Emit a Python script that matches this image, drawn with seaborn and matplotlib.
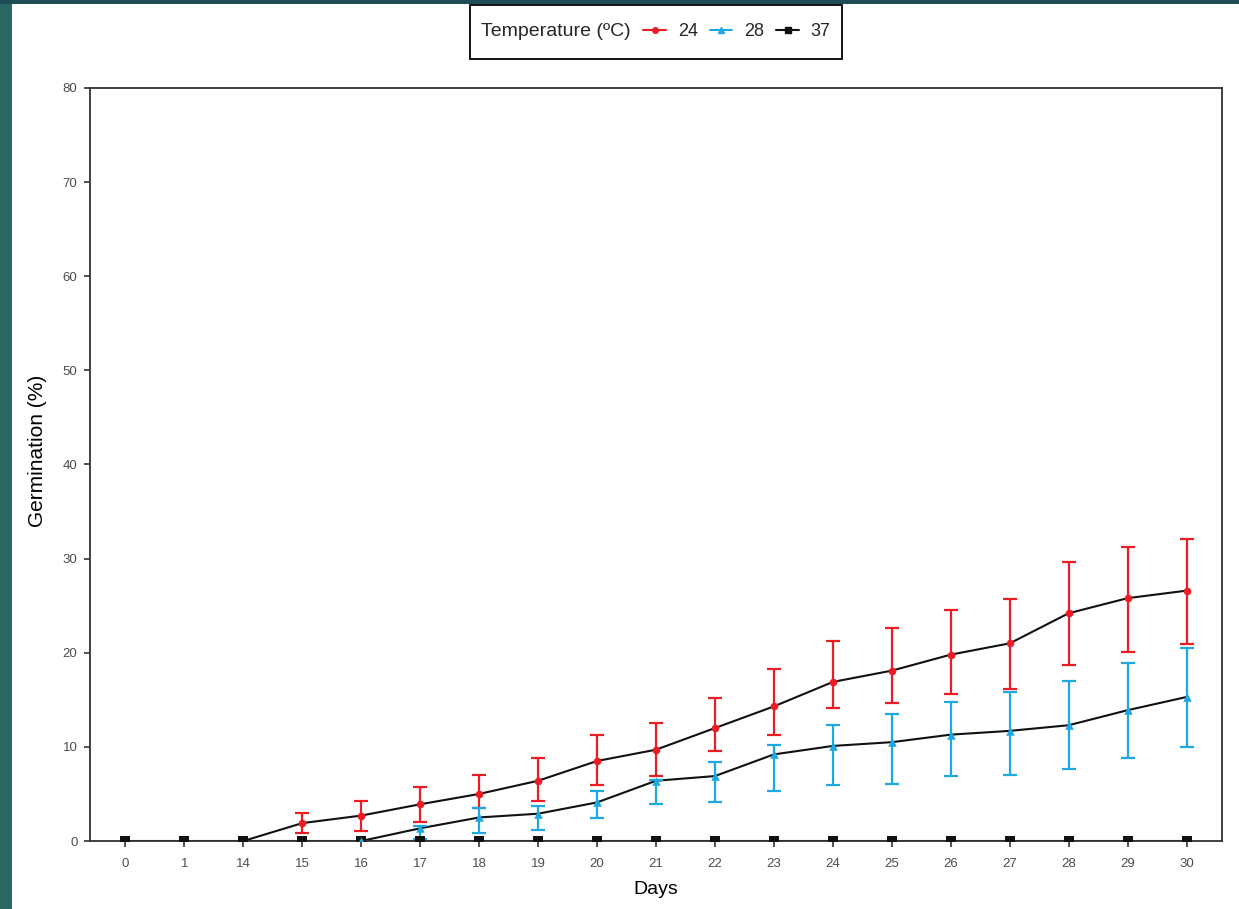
import numpy as np
import pandas as pd
import matplotlib.pyplot as plt
import seaborn as sns
from matplotlib.lines import Line2D
from matplotlib.patches import Rectangle
from matplotlib.offsetbox import HPacker, DrawingArea

# data
days = ['0', '1', '14', '15', '16', '17', '18', '19', '20', '21',
        '22', '23', '24', '25', '26', '27', '28', '29', '30']
nan = np.nan

t24_mean = [nan, nan, 0, 1.9, 2.7, 3.9, 5.0, 6.4, 8.5, 9.7,
            12.0, 14.3, 16.9, 18.1, 19.8, 21.0, 24.2, 25.8, 26.6]
t24_low = [nan, nan, nan, 0.8, 1.05, 2.0, 3.5, 4.3, 5.9, 6.9,
           9.6, 11.3, 14.1, 14.7, 15.6, 16.2, 18.7, 20.1, 20.9]
t24_high = [nan, nan, nan, 3.0, 4.3, 5.7, 7.0, 8.8, 11.3, 12.5,
            15.2, 18.3, 21.3, 22.6, 24.5, 25.7, 29.6, 31.2, 32.1]

t28_mean = [nan, nan, nan, nan, 0, 1.35, 2.5, 2.9, 4.1, 6.4,
            6.9, 9.2, 10.1, 10.5, 11.3, 11.7, 12.3, 13.9, 15.3]
t28_low = [nan, nan, nan, nan, nan, 0.2, 0.8, 1.2, 2.4, 3.95,
           4.1, 5.3, 5.9, 6.1, 6.9, 7.05, 7.65, 8.8, 10.0]
t28_high = [nan, nan, nan, nan, nan, 1.6, 3.5, 3.7, 5.3, 6.5,
            8.4, 10.2, 12.3, 13.5, 14.8, 15.8, 17.0, 18.9, 20.5]

t37_mean = [0] * len(days)

red = '#ED1C24'
blue = '#1BA8E3'
black = '#111111'

sns.set_style('ticks')
plt.rcParams['font.family'] = ['Liberation Sans', 'DejaVu Sans']

pos = np.arange(len(days))
df = pd.concat([
    pd.DataFrame({'pos': pos, 'temp': '24', 'mean': t24_mean, 'low': t24_low, 'high': t24_high}),
    pd.DataFrame({'pos': pos, 'temp': '28', 'mean': t28_mean, 'low': t28_low, 'high': t28_high}),
    pd.DataFrame({'pos': pos, 'temp': '37', 'mean': t37_mean, 'low': nan, 'high': nan}),
], ignore_index=True)

fig = plt.figure(figsize=(12.39, 9.09), dpi=100)
fig.patch.set_facecolor('#2c6863')
fig.add_artist(Rectangle((0, 1 - 4 / 909), 1, 4 / 909, transform=fig.transFigure,
                         facecolor='#1d4b56', edgecolor='none', zorder=-2))
fig.add_artist(Rectangle((12 / 1239, 0), 1, 1 - 4 / 909, transform=fig.transFigure,
                         facecolor='white', edgecolor='none', zorder=-1))

ax = fig.add_axes([90 / 1239, 1 - 841 / 909, (1222 - 90) / 1239, (841 - 88) / 909])

# black connecting lines for every series
sns.lineplot(data=df.dropna(subset=['mean']), x='pos', y='mean', units='temp',
             estimator=None, color=black, lw=1.5, ax=ax, zorder=2, legend=False)

# error bars
for temp, col in [('24', red), ('28', blue)]:
    d = df[(df.temp == temp)].dropna(subset=['low'])
    ax.errorbar(d['pos'], d['mean'], yerr=[d['mean'] - d['low'], d['high'] - d['mean']],
                fmt='none', ecolor=col, elinewidth=1.6, capsize=5, capthick=1.6, zorder=2.5)

# markers
d24 = df[df.temp == '24'].dropna(subset=['mean'])
d28 = df[df.temp == '28'].dropna(subset=['mean'])
d37 = df[df.temp == '37']
sns.scatterplot(data=d24, x='pos', y='mean', color=red, marker='o', s=30,
                edgecolor=red, linewidth=0, ax=ax, zorder=3, legend=False)
sns.scatterplot(data=d37, x='pos', y='mean', color=black, marker='s', s=50,
                edgecolor=black, linewidth=0, ax=ax, zorder=4, legend=False)
sns.scatterplot(data=d28, x='pos', y='mean', color=blue, marker='^', s=38,
                edgecolor=blue, linewidth=0, ax=ax, zorder=5, legend=False)

ax.set_xlim(-0.6, len(days) - 0.4)
ax.set_ylim(0, 80)
ax.set_xticks(pos, days)
ax.set_yticks(np.arange(0, 81, 10))
ax.set_xlabel('Days', fontsize=14, color='black', labelpad=8)
ax.set_ylabel('Germination (%)', fontsize=15, color='black')
ax.yaxis.set_label_coords(-0.038, 0.518)
ax.tick_params(direction='out', length=4, width=1.2, color='#333333',
               labelcolor='#4d4d4d', labelsize=9.5)
ax.tick_params(axis='x', pad=8)
ax.tick_params(axis='y', pad=5)
for sp in ax.spines.values():
    sp.set_visible(True)
    sp.set_color('#333333')
    sp.set_linewidth(1.3)

handles = [
    Line2D([], [], color=red, marker='o', ms=4, lw=1.5),
    Line2D([], [], color=blue, marker='^', ms=4, lw=1.5),
    Line2D([], [], color=black, marker='s', ms=4, lw=1.5),
]
leg = fig.legend(handles, ['24', '28', '37'], title='Temperature (ºC)', ncol=3,
                 loc='center', bbox_to_anchor=(656 / 1239, 1 - 32 / 909),
                 frameon=True, fancybox=False, edgecolor='black', framealpha=1,
                 fontsize=13, title_fontsize=14, handlelength=1.25,
                 handletextpad=0.66, columnspacing=0.66, borderpad=0.65)
leg.get_frame().set_linewidth(1.3)
# put the title to the left of the entries, as in the reference
inner = HPacker(pad=0, sep=9, align='center',
                children=[leg._legend_title_box, leg._legend_handle_box])
box = leg._legend_box
box._children = [HPacker(pad=0, sep=0, align='center',
                         children=[DrawingArea(0, 22), inner])]
box.set_figure(fig)

fig.savefig('out.png', dpi=100, facecolor=fig.get_facecolor())
